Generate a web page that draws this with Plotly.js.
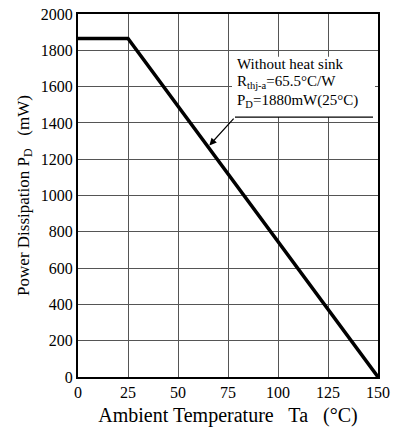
<!DOCTYPE html>
<html><head><meta charset="utf-8">
<script src="https://cdn.plot.ly/plotly-3.0.1.min.js"></script>
<style>body{margin:0;background:#fff}#c{width:394px;height:430px}</style>
</head><body><div id="c"></div>
<script>
const temps = [0, 25, 150];
const power = [1865, 1865, 0];
const xTicks = [0, 25, 50, 75, 100, 125, 150];
const yTicks = [0, 200, 400, 600, 800, 1000, 1200, 1400, 1600, 1800, 2000];
const noteLines = ["Without heat sink", "R<sub>thj-a</sub>=65.5°C/W", "P<sub>D</sub>=1880mW(25°C)"];
const noteY = [1722, 1625, 1522];
const arrowTip = [65, 1268];
const arrowTail = [78.5, 1432];

const font = "Liberation Serif";
const trace = {x: temps, y: power, mode: "lines", line: {color: "#000", width: 3.5}, hoverinfo: "skip"};
const notes = noteLines.map((t, i) => ({xref: "x", yref: "y", x: 78.5, y: noteY[i], xanchor: "left", yanchor: "middle",
  align: "left", showarrow: false, text: t, font: {family: font, size: 15, color: "#000"}}));
const layout = {
  width: 394, height: 430,
  margin: {l: 78, r: 16, t: 14, b: 53},
  paper_bgcolor: "#fff", plot_bgcolor: "#fff",
  showlegend: false,
  font: {family: font, color: "#000", size: 15},
  xaxis: {range: [0, 150], tickvals: xTicks, ticktext: xTicks.map(String), showgrid: true, gridcolor: "#555", gridwidth: 1,
    zeroline: false, showline: true, linecolor: "#000", linewidth: 2, mirror: true, ticks: "", ticklen: 0,
    tickfont: {family: font, size: 16},
    title: {text: "Ambient Temperature   Ta   (°C)", font: {family: font, size: 20}, standoff: 8}},
  yaxis: {range: [0, 2000], tickvals: yTicks, ticktext: yTicks.map(String), showgrid: true, gridcolor: "#555", gridwidth: 1,
    zeroline: false, showline: true, linecolor: "#000", linewidth: 2, mirror: true, ticks: "", ticklen: 0,
    tickfont: {family: font, size: 16},
    title: {text: "Power Dissipation P<sub>D</sub>   (mW)", font: {family: font, size: 17}, standoff: 7}},
  shapes: [
    {type: "rect", xref: "x", yref: "y", x0: 77, x1: 148.5, y0: arrowTail[1], y1: 1765, fillcolor: "#fff", line: {width: 0}, layer: "between"},
    {type: "line", xref: "x", yref: "y", x0: arrowTail[0], x1: 147.5, y0: arrowTail[1], y1: arrowTail[1], line: {color: "#000", width: 1.2}, layer: "above"}
  ],
  annotations: notes.concat([
    {xref: "x", yref: "y", x: arrowTip[0], y: arrowTip[1], axref: "x", ayref: "y", ax: arrowTail[0], ay: arrowTail[1],
     text: "", showarrow: true, arrowhead: 2, arrowsize: 1.2, arrowwidth: 1.2, arrowcolor: "#000", standoff: 2}
  ])
};
Plotly.newPlot("c", [trace], layout, {staticPlot: true});
</script></body></html>
